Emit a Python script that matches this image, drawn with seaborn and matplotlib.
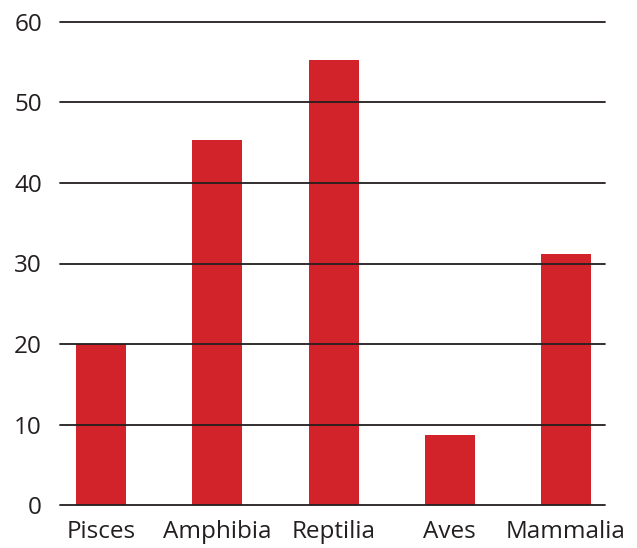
import matplotlib
matplotlib.use("Agg")
import matplotlib.pyplot as plt
import seaborn as sns
import pandas as pd

categories = ["Pisces", "Amphibia", "Reptilia", "Aves", "Mammalia"]
values = [20.0, 45.3, 55.3, 8.7, 31.2]
y_ticks = [0, 10, 20, 30, 40, 50, 60]

sns.set_style("white")
plt.rcParams['font.family'] = ['Open Sans', 'DejaVu Sans']

df = pd.DataFrame({"group": categories, "value": values})

fig = plt.figure(figsize=(6.37, 5.48), dpi=100)
ax = fig.add_axes([60/637, 1 - 505/548, (605-60)/637, (505-22)/548])

sns.barplot(data=df, x="group", y="value", color="#d2232a", width=0.43,
            saturation=1, ax=ax, zorder=1, linewidth=0)

for t in y_ticks:
    ax.axhline(t, color="#231f20", linewidth=1.3, zorder=3, clip_on=False)

ax.set_ylim(0, 60)
ax.set_xlim(-0.353, 4.335)
ax.set_yticks(y_ticks)
ax.set_xlabel("")
ax.set_ylabel("")
for s in ax.spines.values():
    s.set_visible(False)
ax.tick_params(axis="y", length=0, pad=13, labelsize=17.5, labelcolor="#231f20")
ax.tick_params(axis="x", length=0, pad=11, labelsize=17.5, labelcolor="#231f20")

fig.savefig("out.png", dpi=100)
